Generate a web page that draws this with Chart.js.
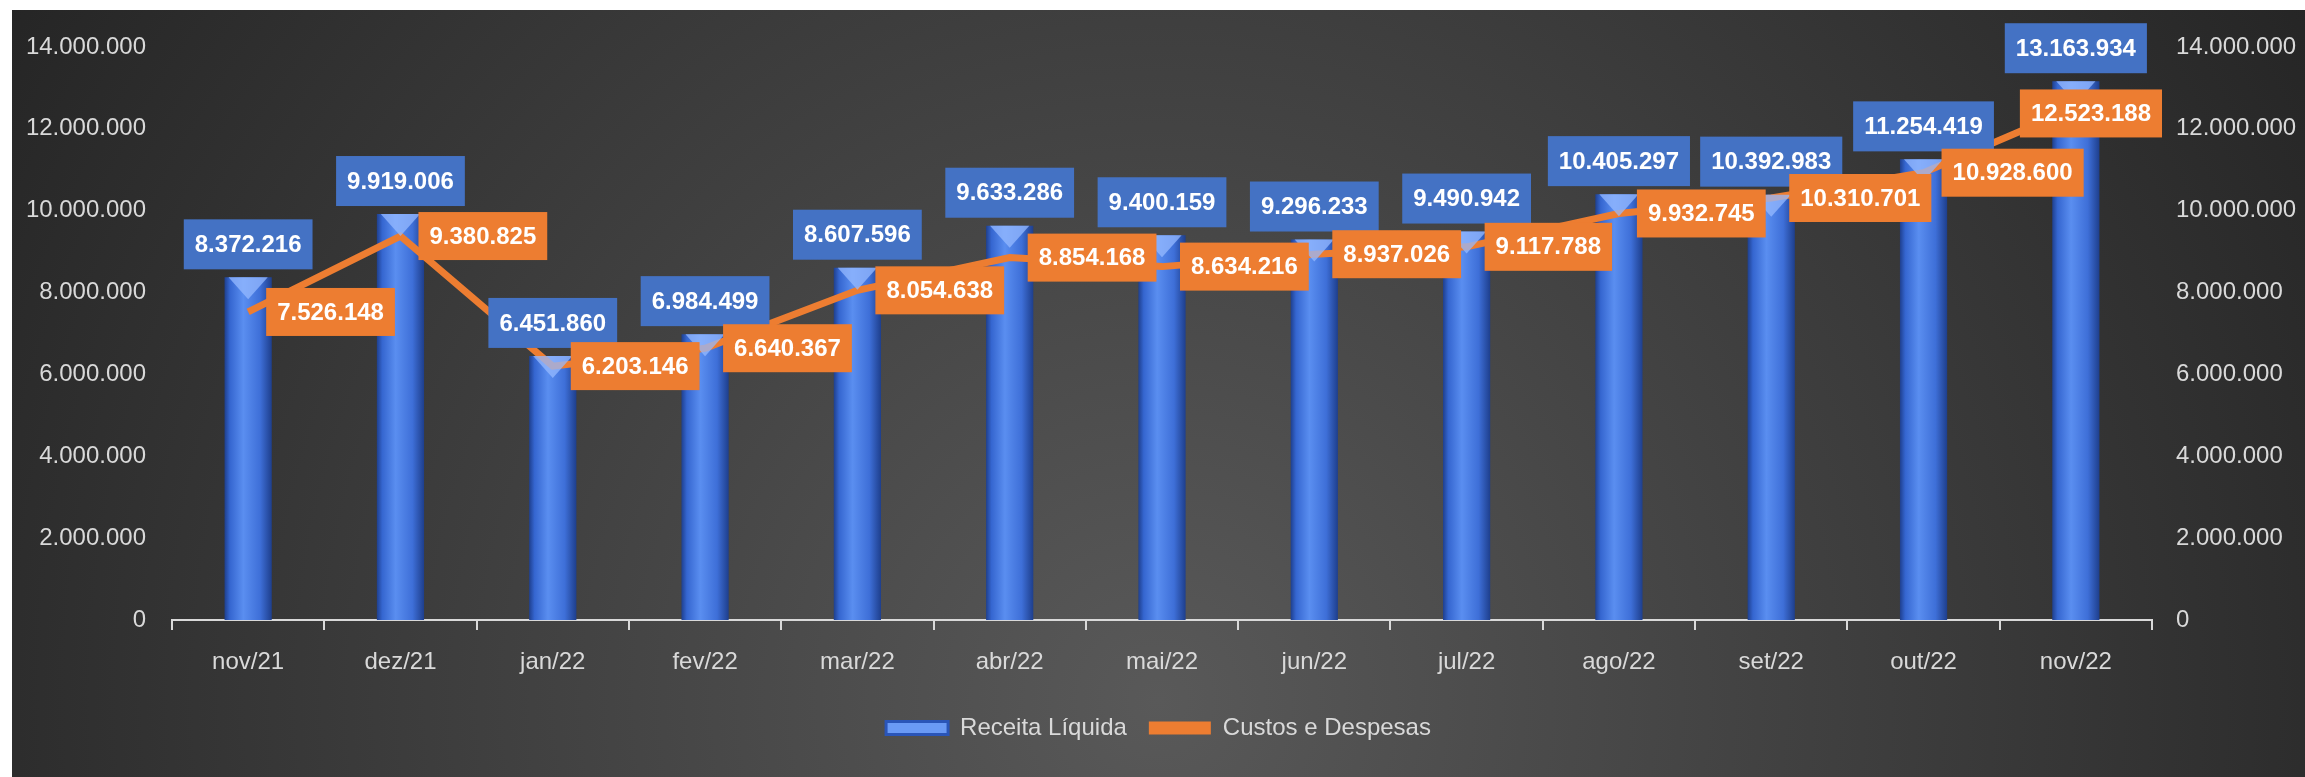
<!DOCTYPE html>
<html lang="pt-BR">
<head>
<meta charset="utf-8">
<title>Receita Líquida x Custos e Despesas</title>
<script src="https://cdn.jsdelivr.net/npm/chart.js@4.4.1/dist/chart.umd.min.js"></script>
<style>
    html, body { margin: 0; padding: 0; background: #ffffff; }
    #wrap { position: absolute; left: 12px; top: 10px; width: 2293px; height: 767px; }
</style>
</head>
<body>
<div id="wrap"><canvas id="grafico" width="2293" height="767"></canvas></div>
<script>
// dados
var meses = ['nov/21', 'dez/21', 'jan/22', 'fev/22', 'mar/22', 'abr/22', 'mai/22',
             'jun/22', 'jul/22', 'ago/22', 'set/22', 'out/22', 'nov/22'];
var receitaLiquida = [8372216, 9919006, 6451860, 6984499, 8607596, 9633286, 9400159,
                      9296233, 9490942, 10405297, 10392983, 11254419, 13163934];
var custosDespesas = [7526148, 9380825, 6203146, 6640367, 8054638, 8854168, 8634216,
                      8937026, 9117788, 9932745, 10310701, 10928600, 12523188];
var eixoMin = 0;
var eixoMax = 14000000;
var eixoPasso = 2000000;

var AZUL = '#4472C4';
var LARANJA = '#ED7D31';
var TEXTO = '#d9d9d9';
var FONTE = "'Liberation Sans', Arial, sans-serif";

/** formata número no padrão brasileiro (14.000.000) */
function fmt(v) {
    return String(Math.round(v)).replace(/\B(?=(\d{3})+(?!\d))/g, '.');
}

/** gradiente horizontal das colunas (efeito cilindro) */
function corColuna(ctx) {
    var chart = ctx.chart;
    if (!chart.chartArea || !chart.scales.x) return '#4a7fe0';
    var x = chart.scales.x.getPixelForValue(ctx.dataIndex);
    var g = chart.ctx.createLinearGradient(x - 24, 0, x + 24, 0);
    g.addColorStop(0, '#1d3d8a');
    g.addColorStop(0.12, '#3566d0');
    g.addColorStop(0.4, '#5a8ef0');
    g.addColorStop(0.75, '#3e6fd8');
    g.addColorStop(1, '#1d3d8a');
    return g;
}

/** fundo radial escuro */
var fundo = {
    id: 'fundo',
    beforeDraw: function(chart) {
        var c = chart.ctx;
        var w = chart.width, h = chart.height;
        var g = c.createRadialGradient(w * 0.5, h * 0.9, 0, w * 0.5, h * 0.9, w * 0.6);
        g.addColorStop(0, '#595959');
        g.addColorStop(0.55, '#3c3c3c');
        g.addColorStop(1, '#242424');
        c.save();
        c.fillStyle = g;
        c.fillRect(0, 0, w, h);
        c.restore();
    }
};

/** rótulos de dados em caixas coloridas */
function caixa(c, texto, x, y, w, h, cor) {
    c.fillStyle = cor;
    c.fillRect(x, y, w, h);
    c.fillStyle = '#ffffff';
    c.fillText(texto, x + w / 2, y + h / 2 + 1);
}

var rotulos = {
    id: 'rotulos',
    afterDatasetsDraw: function(chart) {
        var c = chart.ctx;
        var area = chart.chartArea;
        c.save();
        c.font = 'bold 24px ' + FONTE;
        c.textAlign = 'center';
        c.textBaseline = 'middle';

        // topo mais claro das colunas
        var barras = chart.getDatasetMeta(0).data;
        barras.forEach(function(el) {
            var hw = el.width / 2;
            c.fillStyle = 'rgba(150,185,255,0.75)';
            c.beginPath();
            c.moveTo(el.x - hw + 4, el.y);
            c.lineTo(el.x + hw - 4, el.y);
            c.lineTo(el.x, el.y + 22);
            c.closePath();
            c.fill();
        });

        barras.forEach(function(el, i) {
            var t = fmt(receitaLiquida[i]);
            var w = c.measureText(t).width + 22;
            var h = 50;
            caixa(c, t, el.x - w / 2, el.y - 8 - h, w, h, AZUL);
        });

        var pontos = chart.getDatasetMeta(1).data;
        pontos.forEach(function(el, i) {
            var t = fmt(custosDespesas[i]);
            var w = c.measureText(t).width + 22;
            var h = 48;
            var x = el.x + 18;
            var y = el.y - h / 2;
            // último rótulo não cabe à direita: recua
            if (x + w > area.right + 10) {
                x = area.right + 10 - w;
                y = el.y - h / 2 + 6;
            }
            caixa(c, t, x, y, w, h, LARANJA);
        });
        c.restore();
    }
};

var eixoY = {
    min: eixoMin,
    max: eixoMax,
    grid: { display: false },
    border: { display: false },
    ticks: {
        stepSize: eixoPasso,
        color: TEXTO,
        font: { family: FONTE, size: 24 },
        padding: 18,
        callback: function(v) { return fmt(v); }
    }
};

new Chart(document.getElementById('grafico').getContext('2d'), {
    data: {
        labels: meses,
        datasets: [{
            type: 'bar',
            label: 'Receita Líquida',
            data: receitaLiquida,
            yAxisID: 'y',
            backgroundColor: corColuna,
            categoryPercentage: 1,
            barPercentage: 0.31,
            order: 2
        }, {
            type: 'line',
            label: 'Custos e Despesas',
            data: custosDespesas,
            yAxisID: 'y2',
            borderColor: LARANJA,
            backgroundColor: LARANJA,
            borderWidth: 7,
            pointRadius: 0,
            tension: 0,
            order: 1
        }]
    },
    options: {
        responsive: false,
        animation: false,
        devicePixelRatio: 1,
        layout: { padding: { top: 37, left: 0, right: 0, bottom: 27 } },
        plugins: {
            tooltip: { enabled: false },
            legend: {
                position: 'bottom',
                labels: {
                    color: TEXTO,
                    font: { family: FONTE, size: 24 },
                    boxWidth: 62,
                    boxHeight: 13,
                    padding: 22,
                    generateLabels: function() {
                        return [
                            { text: 'Receita Líquida', fillStyle: '#6a9af5', strokeStyle: '#2a55b8', lineWidth: 3, fontColor: TEXTO, datasetIndex: 0 },
                            { text: 'Custos e Despesas', fillStyle: LARANJA, strokeStyle: LARANJA, lineWidth: 0, fontColor: TEXTO, datasetIndex: 1 }
                        ];
                    }
                }
            }
        },
        scales: {
            x: {
                offset: true,
                grid: {
                    display: true,
                    drawOnChartArea: false,
                    drawTicks: true,
                    tickLength: 10,
                    color: TEXTO,
                    lineWidth: 2,
                    offset: true
                },
                border: { display: true, color: TEXTO, width: 2 },
                ticks: {
                    color: TEXTO,
                    font: { family: FONTE, size: 24 },
                    padding: 18,
                    maxRotation: 0
                },
                afterFit: function(s) { s.height = 74; }
            },
            y: Object.assign({}, eixoY, {
                position: 'left',
                afterFit: function(s) { s.width = 160; }
            }),
            y2: Object.assign({}, eixoY, {
                position: 'right',
                ticks: Object.assign({}, eixoY.ticks, { padding: 16 }),
                afterFit: function(s) { s.width = 153; }
            })
        }
    },
    plugins: [fundo, rotulos]
});
</script>
</body>
</html>
